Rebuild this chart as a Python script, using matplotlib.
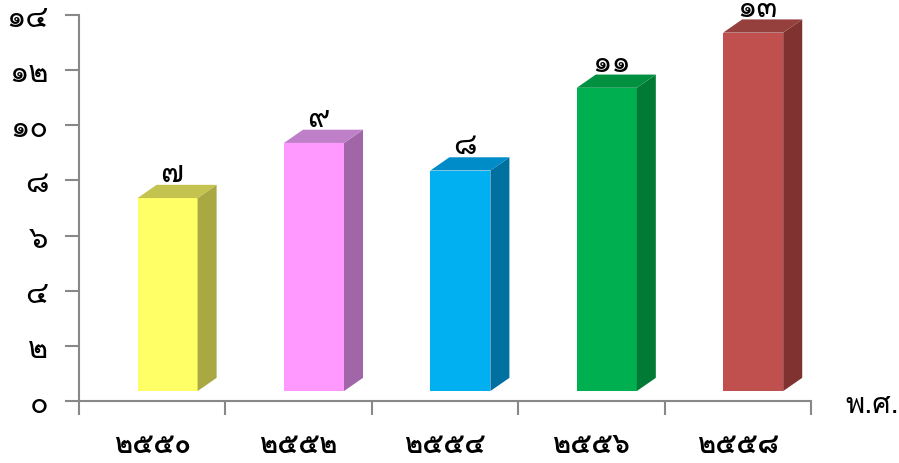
import matplotlib
matplotlib.use('Agg')
import matplotlib.pyplot as plt
from matplotlib import font_manager
from matplotlib.ft2font import FT2Font

# data
years = ['๒๕๕๐', '๒๕๕๒', '๒๕๕๔', '๒๕๕๖', '๒๕๕๘']
values = [7, 9, 8, 11, 13]
value_labels = ['๗', '๙', '๘', '๑๑', '๑๓']
yticks = [0, 2, 4, 6, 8, 10, 12, 14]
ytick_labels = ['๐', '๒', '๔', '๖', '๘', '๑๐', '๑๒', '๑๔']

front_cols = ['#FFFF66', '#FF99FF', '#00B0F0', '#00B050', '#C0504D']
side_cols = ['#A9A843', '#A066A8', '#0070A0', '#007A35', '#7F3230']
top_cols = ['#C4C350', '#C07FC9', '#008CC8', '#009040', '#95403D']


def thai_font():
    # first installed font that has Thai digits
    for f in font_manager.fontManager.ttflist:
        try:
            if 0x0E51 in FT2Font(f.fname).get_charmap():
                return f.name
        except Exception:
            pass
    return 'DejaVu Sans'


plt.rcParams['font.family'] = [thai_font(), 'DejaVu Sans']

fig = plt.figure(figsize=(8.99, 4.64), dpi=100)
ax = fig.add_axes([79 / 899, 1 - 402 / 464, 732 / 899, 386 / 464])
ax.set_xlim(0, 5)
ax.set_ylim(0, 14)

base = 0.36   # floor of the 3d box sits a bit above the axis
dx, dy = 0.13, 0.48
x0, w = 0.40, 0.41

for i, v in enumerate(values):
    left = i + x0
    right = left + w
    top = v + base
    ax.bar(left, v, width=w, bottom=base, align='edge', color=front_cols[i],
           zorder=3, linewidth=0)
    ax.fill([right, right + dx, right + dx, right],
            [base, base + dy, top + dy, top], color=side_cols[i], zorder=3, lw=0)
    ax.fill([left, left + dx, right + dx, right],
            [top, top + dy, top + dy, top], color=top_cols[i], zorder=3, lw=0)
    ax.text(left + w / 2 + 0.03, top + dy + 0.43, value_labels[i], ha='center',
            va='center', fontsize=22, color='black', clip_on=False)

ax.set_yticks(yticks)
ax.set_yticklabels(ytick_labels, fontsize=22)
ax.set_xticks(range(6))
ax.set_xticklabels([])
ax.set_xticks([i + 0.5 for i in range(5)], minor=True)
ax.set_xticklabels(years, minor=True, fontsize=20, fontweight='bold')
ax.tick_params(axis='x', which='minor', length=0, pad=22)
ax.tick_params(axis='both', which='major', length=10, width=1.5, color='#888888')
ax.tick_params(axis='y', pad=12)

for s in ['top', 'right']:
    ax.spines[s].set_visible(False)
for s in ['left', 'bottom']:
    ax.spines[s].set_color('#888888')
    ax.spines[s].set_linewidth(1.5)

fig.text(845 / 899, 1 - 405 / 464, 'พ.ศ.', fontsize=21, va='center', ha='left')

fig.savefig('out.png', dpi=100)
